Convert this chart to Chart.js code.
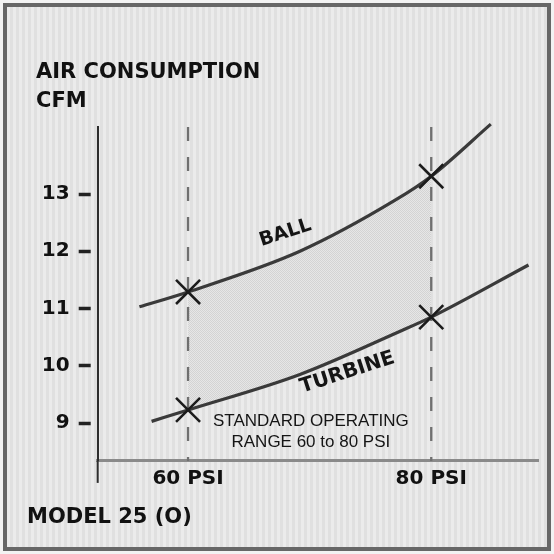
<!DOCTYPE html>
<html>
<head>
<meta charset="utf-8">
<script src="https://cdn.jsdelivr.net/npm/chart.js@4.4.1/dist/chart.umd.min.js"></script>
<style>
  html, body { margin: 0; padding: 0; background: #f3f3f3; }
  #frame {
    position: absolute; left: 3px; top: 3px; width: 548px; height: 548px;
    box-sizing: border-box; border: 4px solid #676767;
    background: repeating-linear-gradient(90deg, #ebebeb 0px, #ebebeb 3px, #e0e0e0 3px, #e0e0e0 6px);
  }
  #c { position: absolute; left: 0; top: 0; }
</style>
</head>
<body>
<div id="frame"></div>
<canvas id="c" width="554" height="554"></canvas>
<script>
// ---- data ----
const psiBall      = [56.0, 60, 69.2, 77.1, 80, 84.9];
const cfmBall      = [11.03, 11.29, 12.00, 12.90, 13.31, 14.22];
const psiTurbine   = [57.0, 60, 69.2, 77.4, 80, 88.0];
const cfmTurbine   = [9.03, 9.23, 9.85, 10.60, 10.85, 11.76];
const markerPsi    = [60, 80];
const yTicks       = [9, 10, 11, 12, 13];
const xTicks       = [60, 80];
const xTickLabels  = ['60 PSI', '80 PSI'];
const seriesNames  = ['BALL', 'TURBINE'];
const rangeNote    = ['STANDARD OPERATING', 'RANGE 60 to 80 PSI'];
const titleLines   = ['AIR CONSUMPTION', 'CFM'];
const footNote     = 'MODEL 25 (O)';
const xRange       = [52.57, 88.78];
const yRange       = [8.34, 14.17];

const toPts = (xs, ys) => xs.map((x, i) => ({x: x, y: ys[i]}));
const ballPts = toPts(psiBall, cfmBall);
const turbPts = toPts(psiTurbine, cfmTurbine);
const inRange = p => p.x >= markerPsi[0] && p.x <= markerPsi[1];

// dotted shading pattern
const pc = document.createElement('canvas');
pc.width = 2; pc.height = 2;
const pctx = pc.getContext('2d');
pctx.fillStyle = '#e6e6e6'; pctx.fillRect(0, 0, 2, 2);
pctx.fillStyle = '#d3d3d3'; pctx.fillRect(0, 0, 1, 1); pctx.fillRect(1, 1, 1, 1);
const shade = document.getElementById('c').getContext('2d').createPattern(pc, 'repeat');

const FONT = 'DejaVu Sans';
const markerRadius = ctx => (ctx.raw && markerPsi.includes(ctx.raw.x)) ? 17 : 0;

const curveStyle = {
  borderColor: '#3a3a3a', borderWidth: 3.2, cubicInterpolationMode: 'monotone',
  pointStyle: 'crossRot', pointRadius: markerRadius, pointBorderColor: '#1c1c1c',
  pointBorderWidth: 2.6, pointBackgroundColor: 'transparent', fill: false, clip: false
};
const dashStyle = {
  borderColor: '#707070', borderWidth: 2.3, borderDash: [14, 16],
  pointRadius: 0, fill: false, clip: false
};

const annotations = {
  id: 'annotations',
  afterLayout(chart) {
    if (chart.titleBlock) { chart.titleBlock.left += 9; }
  },
  afterDatasetsDraw(chart, args, opts) {
    const {ctx, scales: {x, y}} = chart;
    ctx.save();
    ctx.fillStyle = '#151515';
    opts.labels.forEach(l => {
      ctx.save();
      ctx.translate(x.getPixelForValue(l.x), y.getPixelForValue(l.y));
      ctx.rotate(l.angle * Math.PI / 180);
      ctx.font = l.font;
      ctx.textAlign = 'center';
      ctx.textBaseline = 'middle';
      l.lines.forEach((t, i) => ctx.fillText(t, 0, i * l.lineGap));
      ctx.restore();
    });
    // y axis continues below the x axis
    const area = chart.chartArea;
    ctx.strokeStyle = '#2e2e2e';
    ctx.lineWidth = 2;
    ctx.beginPath();
    ctx.moveTo(area.left, area.bottom);
    ctx.lineTo(area.left, area.bottom + opts.axisTail);
    ctx.stroke();
    ctx.restore();
  }
};

new Chart(document.getElementById('c'), {
  type: 'line',
  data: {
    datasets: [
      Object.assign({label: seriesNames[0], data: ballPts}, curveStyle),
      Object.assign({label: seriesNames[1], data: turbPts}, curveStyle),
      Object.assign({label: xTickLabels[0], data: [{x: xTicks[0], y: yRange[1]}, {x: xTicks[0], y: yRange[0]}]}, dashStyle),
      Object.assign({label: xTickLabels[1], data: [{x: xTicks[1], y: yRange[1]}, {x: xTicks[1], y: yRange[0]}]}, dashStyle),
      {label: 'range-top', data: ballPts.filter(inRange), borderWidth: 0, pointRadius: 0,
       cubicInterpolationMode: 'monotone', fill: false},
      {label: 'range-bottom', data: turbPts.filter(inRange), borderWidth: 0, pointRadius: 0,
       cubicInterpolationMode: 'monotone', fill: '-1', backgroundColor: shade}
    ]
  },
  options: {
    responsive: false,
    animation: false,
    events: [],
    layout: {padding: {left: 27, right: 16, top: 0, bottom: 10}},
    plugins: {
      legend: {display: false},
      tooltip: {enabled: false},
      title: {
        display: true, text: titleLines, align: 'start', color: '#111',
        font: {family: FONT, size: 21, weight: 'bold', lineHeight: 1.35},
        padding: {top: 58.8, bottom: 11.5}
      },
      subtitle: {
        display: true, text: footNote, align: 'start', position: 'bottom', color: '#111',
        font: {family: FONT, size: 21, weight: 'bold', lineHeight: 1.2},
        padding: {top: 0, bottom: 13.9}
      },
      annotations: {
        axisTail: 22,
        labels: [
          {lines: [seriesNames[0]], x: 68.0, y: 12.32, angle: -18, font: 'bold 19px "DejaVu Sans"', lineGap: 0},
          {lines: [seriesNames[1]], x: 73.1, y: 9.88, angle: -18, font: 'bold 20px "DejaVu Sans"', lineGap: 0},
          {lines: rangeNote, x: 70.1, y: 9.03, angle: 0, font: '17px "Liberation Sans"', lineGap: 21}
        ]
      }
    },
    scales: {
      x: {
        type: 'linear', min: xRange[0], max: xRange[1],
        afterBuildTicks: s => { s.ticks = xTicks.map(v => ({value: v})); },
        afterFit: s => { s.height = 44; },
        grid: {display: false, drawTicks: false},
        border: {display: true, color: '#8a8a8a', width: 3},
        ticks: {
          padding: 6, color: '#111', maxRotation: 0, autoSkip: false,
          font: {family: FONT, size: 20, weight: 'bold'},
          callback: v => xTickLabels[xTicks.indexOf(v)]
        }
      },
      y: {
        type: 'linear', min: yRange[0], max: yRange[1],
        afterBuildTicks: s => { s.ticks = yTicks.map(v => ({value: v})); },
        afterFit: s => { s.width = 70.7; },
        grid: {display: true, drawOnChartArea: false, drawTicks: true, tickLength: 19,
               tickBorderDash: [12, 40], tickColor: '#222', tickWidth: 3.5},
        border: {display: true, color: '#2e2e2e', width: 2},
        ticks: {
          padding: 9, color: '#111', autoSkip: false,
          font: {family: FONT, size: 20, weight: 'bold'},
          callback: v => String(v)
        }
      }
    }
  },
  plugins: [annotations]
});
</script>
</body>
</html>
